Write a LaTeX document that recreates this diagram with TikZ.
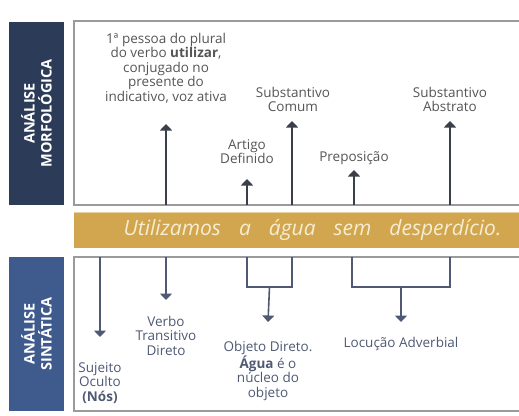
\documentclass[tikz,border=0pt]{standalone}
\usepackage{fontspec}
\setmainfont{Open Sans}
\usepackage{tikz}
\usetikzlibrary{arrows.meta, positioning}

\definecolor{navy}{HTML}{2C3B57}
\definecolor{azul}{HTML}{3F5A8C}
\definecolor{ouro}{HTML}{D2A64E}
\definecolor{creme}{HTML}{F6EDD3}
\definecolor{moldura}{HTML}{9A9A9A}
\definecolor{texto}{HTML}{555555}
\definecolor{seta}{HTML}{3A3F4A}
\definecolor{setab}{HTML}{4F5973}

\tikzset{
  titulo/.style={rotate=90, align=center, text=white, inner sep=0pt,
    minimum width=183pt, minimum height=55pt,
    font=\fontsize{14.5}{17}\selectfont\bfseries},
  rotulo/.style={align=center, anchor=north, inner sep=0pt, text=texto,
    font=\fontsize{13.5}{14.5}\selectfont},
  sobe/.style={draw=seta, line width=1.6pt, -{Triangle[width=12pt,length=6.5pt]}},
  desce/.style={draw=setab, line width=1.6pt, -{Triangle[width=12pt,length=6.5pt]}},
  chave/.style={draw=setab, line width=1.6pt},
  painel/.style={draw=moldura, line width=1.4pt},
}

\begin{document}
\begin{tikzpicture}[x=1pt, y=-1pt]
\useasboundingbox (0,0) rectangle (519,415);

% titulos laterais
\node[titulo, fill=navy] (morf) at (36.5,113.5) {ANÁLISE\\MORFOLÓGICA};
\node[titulo, fill=azul, minimum width=154pt] (sint) at (36.5,334) {ANÁLISE\\SINTÁTICA};

% paineis e faixa da frase
\draw[painel] (74,21) rectangle (524,205);
\draw[painel] (74,257) rectangle (524,411);
\fill[ouro] (74,212) rectangle (524,248);
\draw[creme!60!ouro, line width=1pt] (74,212.5) -- (524,212.5);
\node[text=creme, font=\fontsize{21}{23}\selectfont\itshape] (frase) at (312.5,230)
  {\spaceskip=18pt Utilizamos a água sem desperdício.};

% analise morfologica
\node[rotulo] (pessoa) at (166,33) {1ª pessoa do plural\\do verbo \textbf{utilizar},\\conjugado no\\presente do\\indicativo, voz ativa};
\node[rotulo] (artigo) at (247,139) {Artigo\\Definido};
\node[rotulo] (comum) at (293,87) {Substantivo\\Comum};
\node[rotulo] (prep) at (354,151) {Preposição};
\node[rotulo] (abstr) at (450,87) {Substantivo\\Abstrato};

\coordinate (b1) at (166,205); \coordinate (t1) at (166,124);
\coordinate (b2) at (247,205); \coordinate (t2) at (247,179);
\coordinate (b3) at (292,205); \coordinate (t3) at (292,121);
\coordinate (b4) at (354,205); \coordinate (t4) at (354,170);
\coordinate (b5) at (450,205); \coordinate (t5) at (450,121);
\foreach \i in {1,...,5}
  \draw[sobe] (b\i) -- (t\i);

% analise sintatica
\node[rotulo, text=setab] (sujeito) at (100,362) {Sujeito\\Oculto\\\textbf{(Nós)}};
\node[rotulo, text=setab] (verbo) at (166,316) {Verbo\\Transitivo\\Direto};
\node[rotulo, text=setab] (objeto) at (268,341) {Objeto Direto.\\\textbf{Água} é o\\núcleo do\\objeto};
\node[rotulo, text=setab] (locucao) at (401,337) {Locução Adverbial};

\coordinate (s1) at (100,257); \coordinate (u1) at (100,337);
\coordinate (s2) at (166,257); \coordinate (u2) at (166,300);
\draw[desce] (s1) -- (u1);
\draw[desce] (s2) -- (u2);

\draw[chave] (247,257) |- (292,287) coordinate[pos=.75] (o) -- (292,257);
\draw[desce] (o) -- (268,322);
\draw[chave] (352,257) |- (450,287) coordinate[pos=.75] (l) -- (450,257);
\draw[desce] (l) -- (401,322);
\end{tikzpicture}
\end{document}
